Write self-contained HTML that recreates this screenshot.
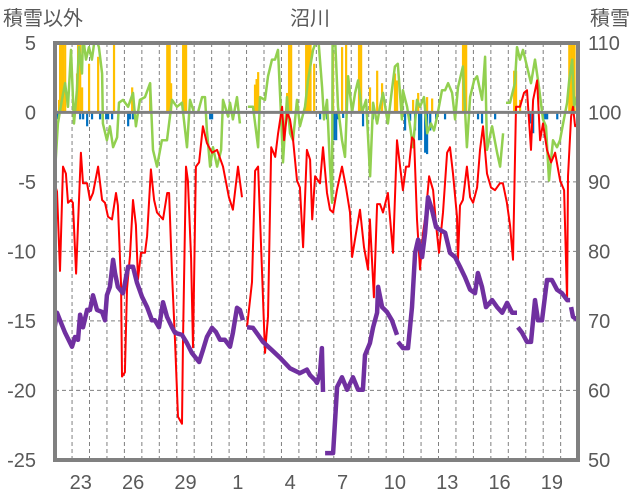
<!DOCTYPE html>
<html><head><meta charset="utf-8">
<style>
html,body{margin:0;padding:0;background:#fff;}
svg{display:block;font-family:"Liberation Sans","Noto Sans CJK JP",sans-serif;}
</style></head>
<body>
<svg id="chart" width="636" height="501" viewBox="0 0 636 501" xmlns="http://www.w3.org/2000/svg">
<defs><clipPath id="plotclip"><rect x="55" y="43" width="523" height="417"/></clipPath></defs>
<text x="310" y="25" font-size="20" fill="#595959" text-anchor="middle">沼川</text>
<text x="3" y="25" font-size="20" fill="#595959">積雪以外</text>
<text x="590" y="25" font-size="20" fill="#595959">積雪</text>
<g id="grid"></g>
<g id="series" clip-path="url(#plotclip)"></g>
<g id="axes"></g>
</svg>
<script>
const leftTicks = [5,0,-5,-10,-15,-20,-25];
const rightTicks = [110,100,90,80,70,60,50];
const dayLabels = ["23","26","29","1","4","7","10","13","16","19"];
const dayLabelIdx = [1,4,7,10,13,16,19,22,25,28];
const numDays = 30;

const redT = [0.02,0.14,0.31,0.48,0.65,0.77,0.94,1.05,1.23,1.34,1.51,1.63,1.86,2.03,2.20,2.49,2.72,2.89,3.06,3.29,3.52,3.63,3.81,3.86,4.03,4.15,4.32,4.49,4.66,4.78,4.95,5.18,5.30,5.52,5.70,5.87,6.21,6.45,6.56,6.73,6.90,7.07,7.30,7.36,7.53,7.64,7.82,7.93,8.10,8.28,8.50,8.73,9.02,9.31,9.65,9.99,10.22,10.51,10.74,10.9,11.03,11.31,11.49,11.66,11.89,12.06,12.23,12.41,12.64,12.81,13.04,13.15,13.33,13.49,13.67,13.89,14.06,14.24,14.46,14.64,14.76,14.93,15.21,15.38,15.61,15.78,15.96,16.18,16.47,16.70,16.93,17.05,17.27,17.50,17.73,17.96,18.07,18.30,18.48,18.65,18.82,19.10,19.39,19.62,19.96,20.14,20.31,20.48,20.60,20.77,20.94,21.11,21.28,21.46,21.69,21.86,22.03,22.26,22.49,22.66,22.83,23.06,23.12,23.23,23.40,23.63,23.81,23.98,24.21,24.38,24.55,24.78,25.01,25.24,25.52,25.69,25.92,26.10,26.27,26.44,26.67,26.90,27.07,27.30,27.42,27.65,27.82,27.99,28.22,28.45,28.68,28.97,29.20,29.37,29.42,29.60,29.71,29.83,30.0];
const redV = [-5.2,-5.7,-11.4,-3.9,-4.4,-6.5,-6.3,-6.5,-11.6,-8.1,-2.9,-5.1,-5.1,-6.3,-5.8,-3.9,-6.3,-6.5,-7.5,-7.7,-5.8,-6.7,-12.5,-19,-18.7,-12.7,-10.3,-6.3,-8.1,-12,-10.1,-10.1,-8.9,-4.1,-6.3,-7.2,-7.7,-5.8,-5.8,-11.6,-16.4,-21.9,-22.4,-16.4,-3.9,-4.9,-10.5,-16.9,-3.9,-3.6,-1.0,-2.2,-2.9,-2.7,-3.9,-6.1,-7.0,-3.9,-6.1,null,-15.4,-12.2,-4.2,-3.9,-11.6,-17.3,-14.7,-2.5,-3.2,-1.5,0.4,-2,0,-0.5,-2,-4.9,-5.4,-9.7,-2.7,-3.4,-7.7,-4.6,-5.1,-2.5,-5.8,-7.0,-7.2,-5.6,-3.9,-5.4,-7.2,-10.4,-8.7,-7.0,-9.7,-11.3,-7.7,-13.3,-6.6,-6.6,-7.2,-5.8,-10.1,-2,-5.6,-3.9,-3.9,-1.8,-2,-7.7,-11.3,-8.7,-7.2,-4.6,-5.6,-8.1,-10.1,-7.2,-2.9,-2.5,-4.4,-7.5,-10.6,-6.7,-6.3,-3.9,-6.1,-6.5,-5.4,-2.7,-1.0,-4.4,-5.4,-5.6,-5.1,-5.1,-6.5,-8.1,-10.6,0.4,0.4,1.4,1.6,-2.7,0.9,2.3,-2,-0.8,-2.7,-3.6,-2.9,-4.9,-5.6,-13.6,-4.6,-0.3,0.4,-1.0,-0.8];

const greenT = [0.02,0.19,0.42,0.6,0.77,0.94,1.11,1.28,1.4,1.57,1.63,1.8,1.97,2.14,2.32,2.54,2.72,2.77,3.0,3.17,3.35,3.58,3.69,3.92,4.21,4.49,4.66,4.89,5.18,5.47,5.64,5.87,6.15,6.44,6.73,7.01,7.3,7.59,7.76,7.99,8.22,8.45,8.62,8.73,8.91,9.08,9.31,9.54,9.65,9.94,10.05,10.22,10.45,10.62,10.85,11.08,11.37,11.66,11.77,12.06,12.23,12.46,12.63,12.8,12.98,13.09,13.32,13.49,13.66,13.89,14.06,14.35,14.52,14.81,15.1,15.33,15.44,15.61,15.78,15.9,15.93,16.07,16.24,16.47,16.64,16.82,17.05,17.22,17.39,17.62,17.85,18.08,18.25,18.48,18.65,18.82,19.1,19.33,19.5,19.67,19.9,19.96,20.2,20.37,20.54,20.77,20.94,21.17,21.35,21.57,21.74,21.92,22.2,22.38,22.55,22.78,22.95,23.12,23.4,23.63,23.81,24.04,24.21,24.5,24.67,24.78,25.07,25.36,25.53,25.7,25.8,25.87,26.1,26.38,26.5,26.67,26.84,27.07,27.3,27.53,27.76,27.99,28.16,28.33,28.56,28.79,28.96,29.14,29.37,29.49,29.66,29.77,30.0];
const greenV = [-4.4,-0.8,0.9,2.1,0.4,4.5,-0.8,1.6,4.7,2.8,5.5,3.8,4.7,3.8,5.5,4.7,2.8,-0.8,-2,-1,-2.5,-1.8,0.7,0.9,0.4,1.4,-1,0.9,1.1,2.1,-2.7,-3.9,-2,-2,0.9,0.4,0.7,-2.5,0.9,0,0,1.1,1.1,-1.3,-3.9,-2.5,-3.9,-2.7,0.9,-0.3,0.7,-0.5,1.1,-0.8,null,0.4,0.4,-2.5,1.1,0.9,2.6,3.8,3.8,4.5,-0.3,-3.6,1.1,-1.5,-2,0.9,-1,0.4,2.3,4.5,5.5,1.8,-0.5,0.9,-3.9,-6.5,5.5,5.5,0.4,-2,-3.2,2.6,0,1.4,2.3,0,0.9,-4.6,0.7,-0.8,0.4,1.4,-0.8,1.6,3.3,3.5,-0.5,1.6,0.4,-1.0,-2.5,0.9,0.4,1.1,-1.5,-0.8,-1.3,-0.3,1.6,1.6,2.1,1.4,-0.5,1.8,3.3,-2.5,1.1,2.3,2.6,0.9,4.0,-2.7,-1,-2.9,-3.9,-1.5,null,0.7,0.7,2.1,4.7,3.8,4.5,3.3,2.1,3.8,1.8,-0.5,-1,-4.9,-2,-2.5,-2,-0.8,0.7,2.3,3.8,0.4,1.4];

const snowT = [0,0.14,0.31,0.6,1.0,1.17,1.34,1.46,1.63,1.86,2.03,2.2,2.43,2.72,2.89,3.0,3.17,3.35,3.46,3.63,3.92,4.21,4.49,4.72,5.01,5.30,5.58,5.75,5.98,6.21,6.44,6.73,6.9,7.3,7.59,7.87,8.28,8.5,8.73,9.02,9.25,9.48,9.76,10.05,10.22,10.45,10.62,10.79,10.9,11.03,11.37,11.66,11.94,12.46,12.92,13.49,14.06,14.46,14.64,14.93,15.04,15.21,15.32,15.38,15.44,15.5,15.96,16.19,16.47,16.76,17.1,17.39,17.67,17.79,18.07,18.25,18.48,18.54,18.77,19.05,19.33,19.62,19.65,19.68,19.96,20.25,20.48,20.66,20.83,21.06,21.23,21.4,21.63,21.86,22.09,22.38,22.66,22.95,23.23,23.52,23.81,24.09,24.26,24.49,24.72,25.07,25.36,25.65,25.93,26.22,26.5,26.52,26.55,26.79,27.07,27.3,27.53,27.7,27.93,28.22,28.5,28.79,29.08,29.37,29.54,29.57,29.6,29.71,30.0];
const snowV = [69.0,71.2,70.1,68.3,66.3,67.7,67.3,70.9,69.1,71.6,71.6,73.7,71.6,71.3,70.1,73.7,74.9,78.8,76.9,74.9,74.0,77.8,77.8,75.5,73.5,72.0,70.1,70.1,69.1,72.7,70.6,69.1,68.3,68.0,66.8,65.4,64.1,65.8,67.7,69.0,68.4,67.3,67.3,66.3,68.3,71.9,71.6,70.1,null,69.1,69.0,68.0,67.0,65.8,64.7,63.2,62.5,63.0,62.2,61.5,61.1,62.5,66.1,59.8,null,51.0,51.0,60.5,61.9,60.1,61.9,60.1,60.1,65.1,66.8,69.1,71.2,74.9,72.0,71.3,70.1,68.0,null,67.0,66.1,66.1,72.0,79.8,81.7,79.2,82.7,87.8,86.0,83.5,83.1,82.7,79.8,79.2,77.8,76.3,74.5,74.0,76.9,74.9,72.0,73.0,72.0,71.2,72.6,71.2,71.2,null,69.1,68.3,67.0,67.0,73.0,70.1,70.1,75.9,75.9,74.5,74.0,73.0,73.0,null,72.0,70.6,70.1];

const precipT = [0.25,0.31,0.40,0.48,0.6,1.28,1.34,1.46,1.57,1.97,2.49,3.40,4.44,5.47,6.45,6.50,6.59,6.67,7.36,7.44,7.53,11.48,11.57,11.66,13.32,13.43,13.55,14.41,14.49,14.58,14.66,14.87,15.95,16.47,16.70,17.44,17.56,18.07,18.48,18.76,19.50,19.62,20.54,20.83,21.34,21.63,23.40,23.49,23.58,26.33,26.44,26.67,29.49,29.60,29.71,29.79];
const precipV = [0.9,6,6,6,6,2.8,6,6,1.8,3.5,4,6,1.8,2.1,6,6,6,2.1,6,6,6,2,2.4,2.9,1.4,6,6,6,6,6,6,3.5,4.3,4.7,6,6,6,1.8,3.0,2.1,2.8,2.3,0.9,1.4,1.1,1.0,6,6,6,3.0,3.0,0.9,6,6,6,6];

const negT = [0.02,0.19,1.46,1.63,1.86,2.14,2.60,2.95,3.06,3.29,4.21,4.32,4.49,8.91,9.02,15.21,15.61,16.01,16.13,16.24,16.53,17.67,18.24,20.08,20.37,20.65,20.88,21.0,21.23,21.34,21.52,21.86,22.37,24.26,24.49,25.24,27.25,27.42,27.99,28.11,28.22,28.80];
const negV = [-0.5,-0.5,-0.5,-0.5,-1,-0.5,-0.5,-0.5,-0.5,-0.5,-1,-0.5,-0.5,-0.5,-0.5,-0.5,-0.5,-2,-2,-0.5,-0.4,-1,-0.5,-1.3,-0.6,-1.3,-2,-2,-2.9,-3,-1.3,-0.5,-0.5,-0.5,-0.8,-0.5,-0.8,-1.5,-0.5,-0.5,-0.5,-0.5];

const NS = "http://www.w3.org/2000/svg";
const X0 = 54.6, DAYW = 17.45, Y0 = 112.4, PXV = 13.9;
function xT(t){ return X0 + t*DAYW; }
function yL(v){ return Y0 - v*PXV; }
function yR(s){ return 460 - (s-50)*6.95; }
function mk(tag, attrs, parent){
  const e = document.createElementNS(NS, tag);
  for (const k in attrs) e.setAttribute(k, attrs[k]);
  parent.appendChild(e); return e;
}
const grid = document.getElementById('grid');
const series = document.getElementById('series');
const axes = document.getElementById('axes');

[-5,-10,-15,-20].forEach(v=>{
  const l = mk('line',{x1:55,x2:578,y1:yL(v),y2:yL(v),stroke:'#808080','stroke-width':1,'stroke-dasharray':'4,3'},grid);
  
  
});
for (let d=1; d<numDays; d++){
  const l = mk('line',{x1:xT(d),x2:xT(d),y1:43,y2:460,stroke:'#808080','stroke-width':1,'stroke-dasharray':'4,3'},grid);
  
  
}

precipT.forEach((t,i)=>{
  const y = yL(Math.min(precipV[i],6));
  const r = mk('rect',{x:xT(t)-1,y:y,width:2.2,height:yL(0)-y,fill:'#ffc000'},series);
  
  
});
negT.forEach((t,i)=>{
  const r = mk('rect',{x:xT(t)-1,y:yL(0),width:2.2,height:yL(negV[i])-yL(0),fill:'#0070c0'},series);
  
  
});

function pathFrom(T,V,yf){
  let d='', pen=false;
  T.forEach((t,i)=>{
    const v=V[i];
    if (v===null){pen=false;return;}
    d += (pen?'L':'M') + xT(t).toFixed(1)+','+yf(v).toFixed(1)+' ';
    pen=true;
  });
  return d;
}
const g = mk('path',{d:pathFrom(greenT,greenV,yL),fill:'none',stroke:'#92d050','stroke-width':2.5,'stroke-linejoin':'round'},series);


const r = mk('path',{d:pathFrom(redT,redV,yL),fill:'none',stroke:'#ff0000','stroke-width':2,'stroke-linejoin':'round'},series);


const p = mk('path',{d:pathFrom(snowT,snowV,yR),fill:'none',stroke:'#7030a0','stroke-width':4.5,'stroke-linejoin':'round'},series);



const z = mk('line',{x1:55,x2:578,y1:yL(0),y2:yL(0),stroke:'#808080','stroke-width':3},axes);


const b = mk('rect',{x:55,y:43,width:523,height:417,fill:'none',stroke:'#808080','stroke-width':4},axes);



leftTicks.forEach(v=>{
  const t = mk('text',{x:36,y:yL(v)+7,'font-size':20,fill:'#595959','text-anchor':'end'},axes);
  t.textContent = v;
  
  
});
rightTicks.forEach(s=>{
  const t = mk('text',{x:588,y:yR(s)+7,'font-size':20,fill:'#595959'},axes);
  t.textContent = s;
  
  
});
dayLabels.forEach((lab,i)=>{
  const t = mk('text',{x:xT(dayLabelIdx[i]+0.5),y:489,'font-size':20,fill:'#595959','text-anchor':'middle'},axes);
  t.textContent = lab;
  
  
});
</script>
</body></html>
